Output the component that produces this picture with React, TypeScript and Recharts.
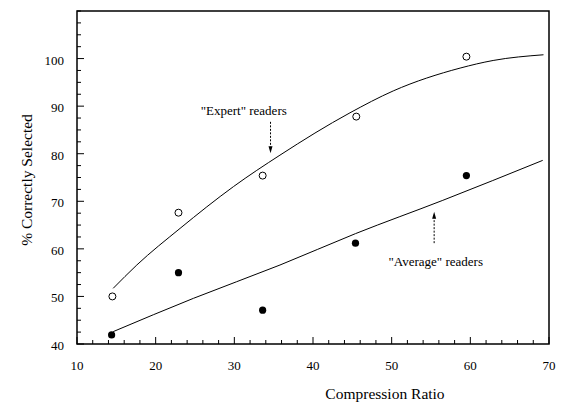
import {
  ComposedChart,
  Line,
  Scatter,
  XAxis,
  YAxis,
  ReferenceArea,
  ReferenceLine,
  ReferenceDot,
} from "recharts";

// measured points
const expertRatio = [14.5, 22.9, 33.6, 45.5, 59.5];
const expertScore = [50, 67.6, 75.4, 87.8, 100.4];
const averageRatio = [14.4, 22.9, 33.6, 45.4, 59.5];
const averageScore = [41.9, 55.0, 47.1, 61.2, 75.4];

// fitted curves
const expertFitRatio = [14.6, 17.6, 23.1, 29.9, 35.8, 44.7, 50.2, 58.7, 62.9, 69.3];
const expertFitScore = [51.7, 56.6, 64.3, 73.1, 79.7, 88.6, 93.2, 98.0, 99.6, 100.8];
const averageFitRatio = [14.6, 24.8, 35.8, 45.4, 56.5, 69.2];
const averageFitScore = [42.6, 49.6, 56.6, 63.2, 70.2, 78.6];

const xTicks = [
  10, 12, 14, 16, 18, 20, 22, 24, 26, 28, 30, 32, 34, 36, 38, 40, 42, 44, 46,
  48, 50, 52, 54, 56, 58, 60, 62, 64, 66, 68, 70,
];
const yTicks = [
  40, 42.5, 45, 47.5, 50, 52.5, 55, 57.5, 60, 62.5, 65, 67.5, 70, 72.5, 75,
  77.5, 80, 82.5, 85, 87.5, 90, 92.5, 95, 97.5, 100, 102.5, 105, 107.5, 110,
];
const yLabels = [40, 50, 60, 70, 80, 90, 100];

const FONT = "'Liberation Serif', 'Times New Roman', serif";

const toPoints = (xs: number[], ys: number[]) =>
  xs.map((x, i) => ({ x, y: ys[i] }));

const expertData = toPoints(expertRatio, expertScore);
const averageData = toPoints(averageRatio, averageScore);
const expertFit = toPoints(expertFitRatio, expertFitScore);
const averageFit = toPoints(averageFitRatio, averageFitScore);

const XTick = (props: any) => {
  const { x, y, payload } = props;
  const major = payload.value % 10 === 0;
  return (
    <g>
      <line x1={x} x2={x} y1={y} y2={y - (major ? 7 : 4)} stroke="#000" />
      {major && (
        <text x={x} y={y + 26} textAnchor="middle" fontFamily={FONT} fontSize={13} fill="#000" stroke="none">
          {payload.value}
        </text>
      )}
    </g>
  );
};

const YTick = (props: any) => {
  const { x, y, payload } = props;
  const major = yLabels.includes(payload.value);
  return (
    <g>
      <line x1={x} x2={x + (major ? 7 : 4)} y1={y} y2={y} stroke="#000" />
      {major && (
        <text x={x - 13} y={y + 6} textAnchor="end" fontFamily={FONT} fontSize={13} fill="#000" stroke="none">
          {payload.value}
        </text>
      )}
    </g>
  );
};

const OpenDot = (p: any) => (
  <circle cx={p.cx} cy={p.cy} r={3.5} fill="#fff" stroke="#000" strokeWidth={1} />
);
const FilledDot = (p: any) => <circle cx={p.cx} cy={p.cy} r={3.6} fill="#000" />;

const note = (text: string) => (p: any) => (
  <text x={p.cx} y={p.cy + 4} textAnchor="middle" fontFamily={FONT} fontSize={13} fill="#000">
    {text}
  </text>
);
const headDown = (p: any) => (
  <polygon points={`${p.cx - 2},${p.cy - 7} ${p.cx + 2},${p.cy - 7} ${p.cx},${p.cy}`} fill="#000" />
);
const headUp = (p: any) => (
  <polygon points={`${p.cx - 2},${p.cy + 7} ${p.cx + 2},${p.cy + 7} ${p.cx},${p.cy}`} fill="#000" />
);

export default function App() {
  return (
    <ComposedChart
      width={560}
      height={394}
      margin={{ top: 3, right: 19, bottom: 0, left: 0 }}
    >
      <XAxis
        type="number"
        dataKey="x"
        domain={[10, 70]}
        ticks={xTicks}
        interval={0}
        height={58}
        axisLine={false}
        tickLine={false}
        tickSize={0}
        tickMargin={0}
        tick={<XTick />}
        label={({ viewBox }: any) => (
          <text
            x={viewBox.x + 308}
            y={viewBox.y + 55}
            textAnchor="middle"
            fontFamily={FONT}
            fontSize={15.5}
            fill="#000"
          >
            Compression Ratio
          </text>
        )}
      />
      <YAxis
        type="number"
        dataKey="y"
        domain={[40, 110]}
        ticks={yTicks}
        interval={0}
        width={69}
        axisLine={false}
        tickLine={false}
        tickSize={0}
        tickMargin={0}
        tick={<YTick />}
        label={({ viewBox }: any) => (
          <text
            transform={`translate(${viewBox.x + 24}, 172) rotate(-90)`}
            textAnchor="middle"
            fontFamily={FONT}
            fontSize={15.5}
            fill="#000"
          >
            % Correctly Selected
          </text>
        )}
      />
      <ReferenceArea x1={10} x2={70} y1={40} y2={110} fill="none" stroke="#000" strokeWidth={1.5} />

      <Line
        data={expertFit}
        dataKey="y"
        type="monotone"
        stroke="#000"
        strokeWidth={1}
        dot={false}
        activeDot={false}
        isAnimationActive={false}
      />
      <Line
        data={averageFit}
        dataKey="y"
        type="monotone"
        stroke="#000"
        strokeWidth={1}
        dot={false}
        activeDot={false}
        isAnimationActive={false}
      />
      <Scatter data={expertData} shape={OpenDot} isAnimationActive={false} />
      <Scatter data={averageData} shape={FilledDot} isAnimationActive={false} />

      <ReferenceDot x={31.2} y={89} r={0} shape={note('"Expert" readers')} />
      <ReferenceLine
        segment={[{ x: 34.6, y: 86.7 }, { x: 34.6, y: 81.5 }]}
        stroke="#000"
        strokeDasharray="2 1.5"
      />
      <ReferenceDot x={34.6} y={80.1} r={0} shape={headDown} />

      <ReferenceDot x={55.6} y={57.2} r={0} shape={note('"Average" readers')} />
      <ReferenceLine
        segment={[{ x: 55.4, y: 61.2 }, { x: 55.4, y: 66.4 }]}
        stroke="#000"
        strokeDasharray="2 1.5"
      />
      <ReferenceDot x={55.4} y={67.8} r={0} shape={headUp} />
    </ComposedChart>
  );
}
